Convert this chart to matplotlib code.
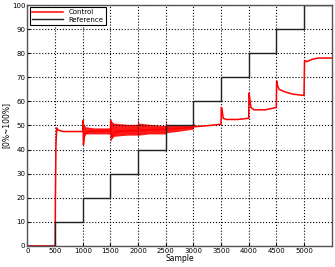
import numpy as np
import matplotlib
matplotlib.use('Agg')
import matplotlib.pyplot as plt

# Reference: step setpoint
ref_x = [0, 500, 1000, 1500, 2000, 2500, 3000, 3500, 4000, 4500, 5000, 5500]
ref_y = [0, 10, 20, 30, 40, 50, 60, 70, 80, 90, 100, 100]

# Control response
ctrl_x = [0, 500, 505, 515, 530, 560, 650, 800, 1000, 1005, 1012, 1030, 1100, 1300, 1500,
          1505, 1520, 1600, 2000, 2500, 2700, 3000, 3005, 3020, 3200, 3500, 3505, 3515,
          3540, 3600, 3800, 4000, 4005, 4015, 4040, 4100, 4300, 4500, 4505, 4515, 4550,
          4650, 4800, 4990, 5000, 5010, 5050, 5150, 5250, 5500]
ctrl_y = [0, 0, 20, 42, 49, 48, 47.5, 47.5, 47.5, 52, 42, 46, 47.5, 47.8, 48,
          52, 45, 47.5, 48, 48.5, 48.8, 49.2, 50.5, 49.5, 49.8, 50.5, 57.5, 57,
          53, 52.5, 52.5, 53, 63.5, 62, 57.5, 56.5, 56.5, 57.5, 68.5, 67, 65,
          64, 63, 62.5, 62.5, 77, 76.5, 77.5, 78, 78]

# Noise envelope of the control signal
band_x = [1000, 1010, 1050, 1200, 1490, 1500, 1510, 1560, 1800, 1990, 2000, 2010,
          2200, 2490, 2500, 2510, 2700, 3000]
band_hi = [55, 51, 49.5, 49, 49, 53, 52, 51, 50.5, 50.5, 54, 51, 50.5, 50, 53, 50.5, 50, 50]
band_lo = [41, 44, 46.5, 46.5, 46.5, 43, 44, 45.5, 46, 46, 45, 46, 46.5, 46.5, 46, 47, 47.5, 48.5]

plt.rcParams['font.family'] = 'DejaVu Sans'
fig = plt.figure(figsize=(3.35, 2.67), dpi=100)
ax = fig.add_axes([0.082, 0.079, 0.908, 0.902])

ax.fill_between(band_x, band_lo, band_hi, color='red', lw=0, alpha=0.9)
ax.plot(ctrl_x, ctrl_y, color='red', lw=1.1, label='Control')
ax.step(ref_x, ref_y, where='post', color='#222222', lw=1.0, label='Reference')

ax.set_xlim(0, 5500)
ax.set_ylim(0, 100)
ax.set_xticks(np.arange(0, 5001, 500))
ax.set_yticks(np.arange(0, 101, 10))
ax.tick_params(direction='in', labelsize=5, length=2, pad=1.5)
ax.grid(True, color='black', linestyle=':', lw=0.8)
for s in ax.spines.values():
    s.set_color('#555555')
    s.set_linewidth(1.0)

ax.set_xlabel('Sample', fontsize=5.5, labelpad=0)
ax.set_ylabel('[0%~100%]', fontsize=5.5, labelpad=1)

leg = ax.legend(loc='upper left', fontsize=5, frameon=True, fancybox=False,
                edgecolor='black', framealpha=1, handlelength=4.5,
                borderaxespad=0.3, borderpad=0.3, labelspacing=0.2)
leg.get_frame().set_linewidth(0.8)

fig.savefig('out.png', dpi=100)
